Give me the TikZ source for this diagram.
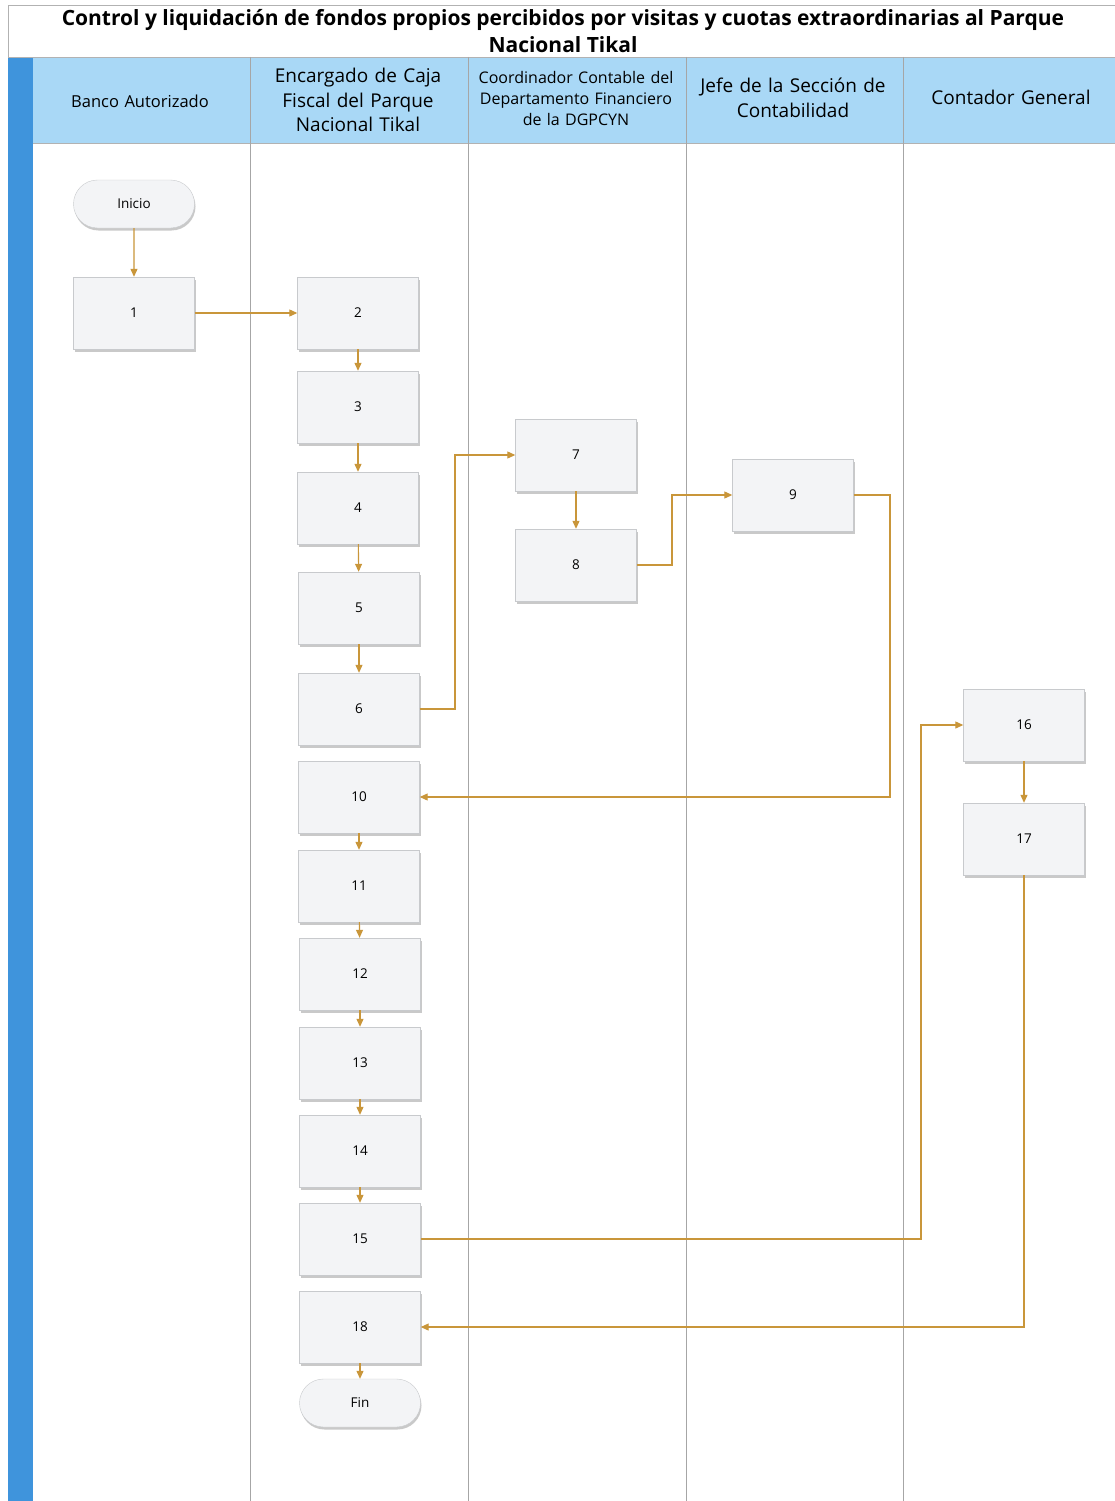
\documentclass[tikz,border=0pt]{standalone}
\usepackage{fontspec}
\setmainfont{Open Sans}
\usepackage{xcolor}
\usetikzlibrary{arrows.meta, positioning, shadows, shapes.misc}

\definecolor{lanehead}{HTML}{A9D8F6}
\definecolor{lanestrip}{HTML}{3F94DC}
\definecolor{flowgold}{HTML}{C9963A}
\definecolor{boxfill}{HTML}{F3F4F6}
\definecolor{boxline}{HTML}{C8CACD}

\tikzset{
  stepbox/.style={draw=boxline, fill=boxfill, minimum width=121pt, minimum height=72pt,
    inner sep=0pt, font=\fontsize{13.5}{15}\selectfont,
    drop shadow={shadow xshift=1pt, shadow yshift=-2.5pt, fill=black!35, opacity=.6}},
  terminal/.style={stepbox, rounded rectangle, minimum height=48pt},
  flow/.style={draw=flowgold, line width=1.1pt, -{Triangle[length=8pt, width=7pt]}},
  lanetitle/.style={align=center, text width=210pt},
}

\begin{document}
\begin{tikzpicture}[x=1pt, y=-1pt]
		\useasboundingbox (0,0) rectangle (1115,1501);
		
		% Frame and title band
		\fill[white] (0,0) rectangle (1115,1501);
		\draw[gray!60] (8,5) rectangle (1116,57);
		\node[font=\fontsize{21}{27}\selectfont\bfseries, align=center] (title) at (563,31)
		{Control y liquidación de fondos propios percibidos por visitas y cuotas extraordinarias al Parque\\Nacional Tikal};
		
		% Lane headers
		\fill[lanestrip] (8,57) rectangle (33,1501);
		\fill[lanehead] (33,57) rectangle (1116,143);
		\draw[gray!60] (33,143) -- (1116,143);
		\draw[gray!60] (8,57) -- (1116,57);
		
		\node[lanetitle, font=\fontsize{16.5}{20}\selectfont] (laneA) at (140,101) {Banco Autorizado};
		\node[lanetitle, font=\fontsize{19}{24.5}\selectfont] (laneB) at (358,100) {Encargado de Caja\\Fiscal del Parque\\Nacional Tikal};
		\node[lanetitle, font=\fontsize{16}{21}\selectfont] (laneC) at (576,99) {Coordinador Contable del\\Departamento Financiero\\de la DGPCYN};
		\node[lanetitle, font=\fontsize{19}{25}\selectfont] (laneD) at (793,98) {Jefe de la Sección de\\Contabilidad};
		\node[lanetitle, font=\fontsize{19}{24}\selectfont] (laneE) at (1011,97) {Contador General};
		
		% Lane dividers
		\draw[gray!70] (250,57) -- (250,1501);
		\draw[gray!70] (468,57) -- (468,1501);
		\draw[gray!70] (686,57) -- (686,1501);
		\draw[gray!70] (903,57) -- (903,1501);
		
		% Steps
		\node[terminal] (inicio) at (134,204) {Inicio};
		\node[stepbox] (s1) at (134,313) {1};
		\node[stepbox] (s2) at (358,313) {2};
		\node[stepbox] (s3) at (358,407) {3};
		\node[stepbox] (s4) at (358,508) {4};
		\node[stepbox] (s5) at (359,608) {5};
		\node[stepbox] (s6) at (359,709) {6};
		\node[stepbox] (s7) at (576,455) {7};
		\node[stepbox] (s8) at (576,565) {8};
		\node[stepbox] (s9) at (793,495) {9};
		\node[stepbox] (s10) at (359,797) {10};
		\node[stepbox] (s11) at (359,886) {11};
		\node[stepbox] (s12) at (360,974) {12};
		\node[stepbox] (s13) at (360,1063) {13};
		\node[stepbox] (s14) at (360,1151) {14};
		\node[stepbox] (s15) at (360,1239) {15};
		\node[stepbox] (s16) at (1024,725) {16};
		\node[stepbox] (s17) at (1024,839) {17};
		\node[stepbox] (s18) at (360,1327) {18};
		\node[terminal] (fin) at (360,1403) {Fin};
		
		% Bend points
		\coordinate (b6) at (455,709);
		\coordinate (b8) at (672,565);
		\coordinate (b9) at (890,495);
		\coordinate (b15) at (921,1239);
		\coordinate (b17) at (1024,1327);
		
		% Connectors
		\draw[flow] (inicio) -- (s1);
		\draw[flow] (s1) -- (s2);
		\draw[flow] (s2) -- (s3);
		\draw[flow] (s3) -- (s4);
		\draw[flow] (s4) -- (s5);
		\draw[flow] (s5) -- (s6);
		\draw[flow] (s6.east) -- (b6) |- (s7.west);
		\draw[flow] (s7) -- (s8);
		\draw[flow] (s8.east) -- (b8) |- (s9.west);
		\draw[flow] (s9.east) -- (b9) |- (s10.east);
		\draw[flow] (s10) -- (s11);
		\draw[flow] (s11) -- (s12);
		\draw[flow] (s12) -- (s13);
		\draw[flow] (s13) -- (s14);
		\draw[flow] (s14) -- (s15);
		\draw[flow] (s15.east) -- (b15) |- (s16.west);
		\draw[flow] (s16) -- (s17);
		\draw[flow] (s17.south) -- (b17) -- (s18.east);
		\draw[flow] (s18) -- (fin);
	\end{tikzpicture}
\end{document}
